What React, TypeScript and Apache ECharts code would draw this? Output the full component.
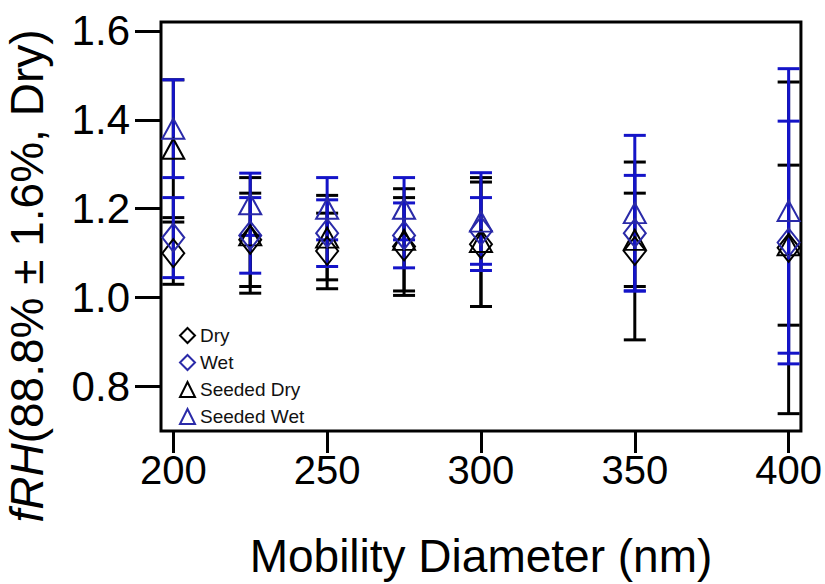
import React, { useEffect, useRef } from "react";
import * as echarts from "echarts";

const diameters = [200, 225, 250, 275, 300, 350, 400];
const dryValues = [1.1, 1.13, 1.105, 1.115, 1.12, 1.105, 1.112];
const dryErrors = [0.07, 0.105, 0.085, 0.11, 0.14, 0.2, 0.373];
const wetValues = [1.135, 1.14, 1.145, 1.14, 1.15, 1.145, 1.124];
const wetErrors = [0.09, 0.085, 0.075, 0.073, 0.075, 0.13, 0.273];
const seededDryValues = [1.335, 1.14, 1.135, 1.13, 1.125, 1.13, 1.118];
const seededDryErrors = [0.155, 0.13, 0.095, 0.115, 0.145, 0.105, 0.18];
const seededWetValues = [1.38, 1.21, 1.2, 1.2, 1.171, 1.19, 1.195];
const seededWetErrors = [0.11, 0.07, 0.07, 0.07, 0.11, 0.175, 0.32];
const xTicks = [200, 250, 300, 350, 400];
const yTicks = [0.8, 1.0, 1.2, 1.4, 1.6];

const BLACK = "#000000";
const BLUE = "#1414c8";
const MARK_BLUE = "#2a2aa8";
const FONT = "Liberation Sans, Arial, sans-serif";

function errorSeries(name: string, vals: number[], errs: number[], color: string) {
  return {
    type: "custom",
    name,
    data: diameters.map((d, i) => [d, vals[i] - errs[i], vals[i] + errs[i]]),
    encode: { x: 0, y: [1, 2] },
    renderItem: (params: any, api: any) => {
      const x = api.value(0);
      const lo = api.coord([x, api.value(1)]);
      const hi = api.coord([x, api.value(2)]);
      const hw = 11;
      const style = { stroke: color, lineWidth: 3 };
      return {
        type: "group",
        children: [
          { type: "line", shape: { x1: lo[0], y1: lo[1], x2: hi[0], y2: hi[1] }, style },
          { type: "line", shape: { x1: lo[0] - hw, y1: lo[1], x2: lo[0] + hw, y2: lo[1] }, style },
          { type: "line", shape: { x1: hi[0] - hw, y1: hi[1], x2: hi[0] + hw, y2: hi[1] }, style },
        ],
      };
    },
    silent: true,
    z: 2,
  };
}

function markerSeries(name: string, vals: number[], symbol: string, size: number[], color: string) {
  return {
    type: "scatter",
    name,
    data: diameters.map((d, i) => [d, vals[i]]),
    symbol,
    symbolSize: size,
    itemStyle: { color: "rgba(0,0,0,0)", borderColor: color, borderWidth: 2, opacity: 1 },
    z: 3,
  };
}

export default function App() {
  const ref = useRef<HTMLDivElement>(null);
  useEffect(() => {
    if (!ref.current) return;
    const chart = echarts.init(ref.current, undefined, { renderer: "svg" });
    chart.setOption({
      animation: false,
      backgroundColor: "#ffffff",
      grid: {
        left: 161,
        right: 24,
        top: 22,
        bottom: 150,
        show: true,
        borderColor: BLACK,
        borderWidth: 3,
        backgroundColor: "transparent",
      },
      legend: {
        orient: "vertical",
        left: 174,
        top: 321,
        itemGap: 8,
        itemWidth: 15,
        itemHeight: 15,
        data: ["Dry", "Wet", "Seeded Dry", "Seeded Wet"],
        textStyle: { fontFamily: FONT, fontSize: 19, color: "#111" },
      },
      graphic: [
        {
          type: "text",
          x: 27,
          y: 276,
          rotation: Math.PI / 2,
          style: {
            text: "{i|fRH}(88.8% ± 1.6%, Dry)",
            fontFamily: FONT,
            fontSize: 46,
            fill: BLACK,
            align: "center",
            verticalAlign: "middle",
            rich: { i: { fontFamily: FONT, fontSize: 46, fontStyle: "italic", fill: BLACK } },
          },
        },
      ],
      xAxis: {
        type: "value",
        min: 196,
        max: 404,
        splitLine: { show: false },
        axisLine: { show: false },
        axisTick: { show: true, length: 22, lineStyle: { color: BLACK, width: 3 }, customValues: xTicks },
        axisLabel: {
          customValues: xTicks,
          fontFamily: FONT,
          fontSize: 40,
          color: BLACK,
          margin: 19,
        },
        name: "Mobility Diameter (nm)",
        nameLocation: "middle",
        nameGap: 102,
        nameTextStyle: { fontFamily: FONT, fontSize: 46, color: BLACK },
      },
      yAxis: {
        type: "value",
        min: 0.7,
        max: 1.62,
        splitLine: { show: false },
        axisLine: { show: false },
        axisTick: { show: true, length: 26, lineStyle: { color: BLACK, width: 3 }, customValues: yTicks },
        axisLabel: {
          customValues: yTicks,
          formatter: (v: number) => v.toFixed(1),
          fontFamily: FONT,
          fontSize: 42,
          color: BLACK,
          margin: 31,
        },
      },
      series: [
        errorSeries("Dry err", dryValues, dryErrors, BLACK),
        markerSeries("Dry", dryValues, "diamond", [22, 28], BLACK),
        errorSeries("Seeded Dry err", seededDryValues, seededDryErrors, BLACK),
        markerSeries("Seeded Dry", seededDryValues, "triangle", [22, 20], BLACK),
        errorSeries("Wet err", wetValues, wetErrors, BLUE),
        markerSeries("Wet", wetValues, "diamond", [22, 28], MARK_BLUE),
        errorSeries("Seeded Wet err", seededWetValues, seededWetErrors, BLUE),
        markerSeries("Seeded Wet", seededWetValues, "triangle", [22, 20], MARK_BLUE),
      ],
    });
    return () => chart.dispose();
  }, []);
  return <div ref={ref} style={{ width: 825, height: 584, position: "absolute", left: 0, top: 0 }} />;
}
